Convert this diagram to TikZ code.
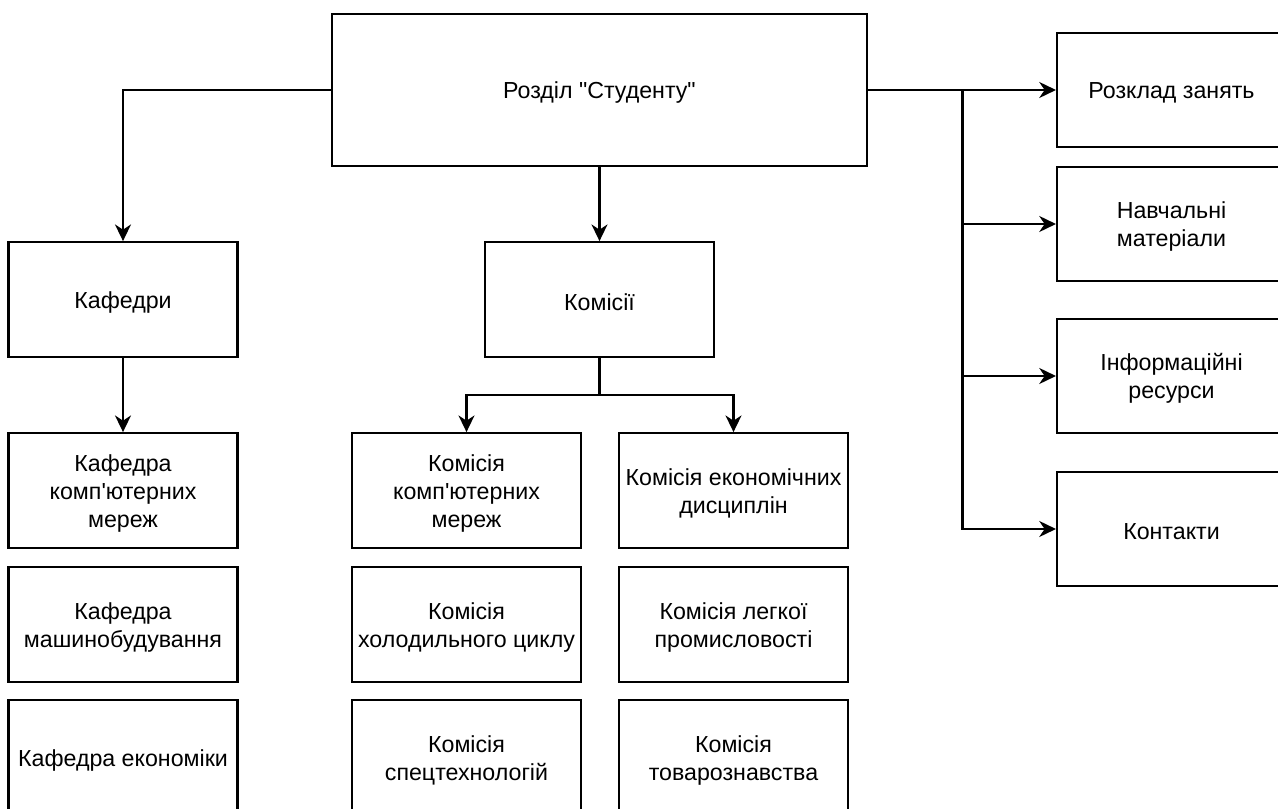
\documentclass[tikz,border=0pt]{standalone}
\usepackage{fontspec}
\setmainfont{Liberation Sans}[Ligatures=TeXOff]
\usetikzlibrary{arrows.meta}
\begin{document}
\begin{tikzpicture}[x=0.75pt,y=-0.75pt,
  line width=1.6pt,
  boxtext/.style={align=center, inner sep=0pt, yshift=-2pt,
    font=\fontsize{17.4}{21}\selectfont},
  box/.style={draw, rectangle, inner sep=0pt,
    minimum width=171.75pt, minimum height=86pt,
    label={[boxtext]center:{#1}}},
  link/.style={-{Stealth[length=12.5pt,width=12pt,inset=4pt]}}]
\useasboundingbox (0,0) rectangle (1278,809);
\clip (0,0) rectangle (1278,809);

% root
\node[box={Розділ "Студенту"}, minimum width=401.25pt, minimum height=114pt] (root) at (599.5,90) {};

% second level
\node[box={Кафедри}] (kaf) at (123,299.5) {};
\node[box={Комісії}] (kom) at (599.5,299.5) {};

% departments
\node[box={Кафедра\\комп'ютерних\\мереж}] (kaf1) at (123,490.5) {};
\node[box={Кафедра\\машинобудування}] (kaf2) at (123,624.5) {};
\node[box={Кафедра економіки}] (kaf3) at (123,757.5) {};

% commissions
\node[box={Комісія\\комп'ютерних\\мереж}] (kom1) at (466.5,490.5) {};
\node[box={Комісія\\холодильного циклу}] (kom2) at (466.5,624.5) {};
\node[box={Комісія\\спецтехнологій}] (kom3) at (466.5,757.5) {};
\node[box={Комісія економічних\\дисциплін}] (kom4) at (733.5,490.5) {};
\node[box={Комісія легкої\\промисловості}] (kom5) at (733.5,624.5) {};
\node[box={Комісія\\товарознавства}] (kom6) at (733.5,757.5) {};

% right-hand sections
\node[box={Розклад занять}] (r1) at (1171.5,90) {};
\node[box={Навчальні\\матеріали}] (r2) at (1171.5,224) {};
\node[box={Інформаційні\\ресурси}] (r3) at (1171.5,376) {};
\node[box={Контакти}] (r4) at (1171.5,529) {};

% connectors
\draw[link] (root.west) -| (kaf.north);
\draw[link] (root.south) -- (kom.north);
\draw[link] (kaf.south) -- (kaf1.north);

\coordinate (fork) at (599.5,395);
\draw (kom.south) -- (fork);
\draw[link] (fork) -| (kom1.north);
\draw[link] (fork) -| (kom4.north);

\coordinate (bus) at (962.5,90);
\draw[link] (root.east) -- (r1.west);
\draw[link] (bus) |- (r2.west);
\draw[link] (bus) |- (r3.west);
\draw[link] (bus) |- (r4.west);
\end{tikzpicture}
\end{document}
